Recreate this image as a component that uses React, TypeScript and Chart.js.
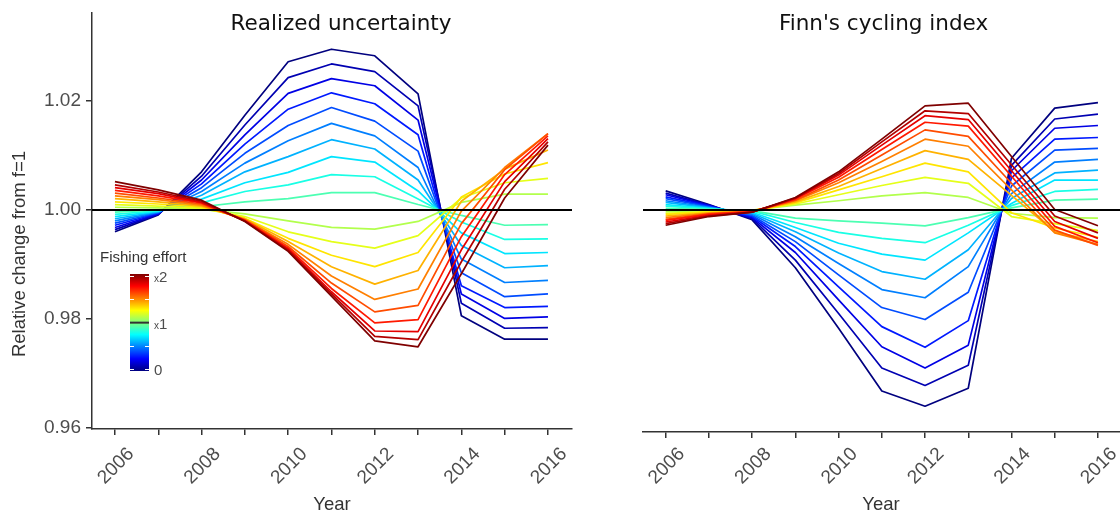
import React, { useEffect, useRef } from 'react';
import { Chart, registerables } from 'chart.js';

Chart.register(...registerables);

// ---------------- data ----------------
const years = [2006, 2007, 2008, 2009, 2010, 2011, 2012, 2013, 2014, 2015, 2016];
const xTickLabels = ['2006', '', '2008', '', '2010', '', '2012', '', '2014', '', '2016'];
const yTickValues = [0.96, 0.98, 1.0, 1.02];
const efforts = [0, 0.1, 0.2, 0.3, 0.4, 0.5, 0.6, 0.7, 0.8, 0.9, 1.0, 1.1, 1.2, 1.3, 1.4, 1.5, 1.6, 1.7, 1.8, 1.9, 2.0];
const panelTitles = ['Realized uncertainty', "Finn's cycling index"];
const xTitle = 'Year';
const yTitle = 'Relative change from f=1';
const legendTitle = 'Fishing effort';
const legendTickValues = [0, 1, 2];
const legendTickLabels = ['0', '1', '2'];
const legendTickPrefix = ['', 'x', 'x'];
const referenceLevel = 1;

// Realized uncertainty, one array per fishing effort (2006..2016)
const ruF00 = [0.9960, 0.9991, 1.0070, 1.0174, 1.0272, 1.0295, 1.0283, 1.0213, 0.9806, 0.9763, 0.9763];
const ruF01 = [0.9964, 0.9992, 1.0062, 1.0156, 1.0243, 1.0268, 1.0254, 1.0191, 0.9829, 0.9783, 0.9784];
const ruF02 = [0.9968, 0.9993, 1.0055, 1.0138, 1.0214, 1.0241, 1.0228, 1.0165, 0.9846, 0.9801, 0.9804];
const ruF03 = [0.9972, 0.9994, 1.0048, 1.0121, 1.0185, 1.0215, 1.0195, 1.0138, 0.9861, 0.9821, 0.9823];
const ruF04 = [0.9976, 0.9995, 1.0041, 1.0104, 1.0155, 1.0188, 1.0163, 1.0108, 0.9885, 0.9841, 0.9846];
const ruF05 = [0.9980, 0.9996, 1.0034, 1.0086, 1.0127, 1.0159, 1.0136, 1.0078, 0.9910, 0.9867, 0.9871];
const ruF06 = [0.9984, 0.9997, 1.0027, 1.0070, 1.0098, 1.0129, 1.0112, 1.0055, 0.9935, 0.9894, 0.9898];
const ruF07 = [0.9988, 0.9998, 1.0020, 1.0050, 1.0069, 1.0098, 1.0088, 1.0035, 0.9958, 0.9920, 0.9922];
const ruF08 = [0.9992, 0.9999, 1.0013, 1.0034, 1.0046, 1.0065, 1.0061, 1.0020, 0.9978, 0.9946, 0.9947];
const ruF09 = [0.9996, 1.0000, 1.0006, 1.0015, 1.0021, 1.0032, 1.0032, 1.0010, 0.9990, 0.9972, 0.9973];
const ruF10 = [1, 1, 1, 1, 1, 1, 1, 1, 1, 1, 1];
const ruF11 = [1.0005, 1.0004, 1.0001, 0.9993, 0.9980, 0.9968, 0.9965, 0.9979, 1.0014, 1.0029, 1.0029];
const ruF12 = [1.0010, 1.0007, 1.0003, 0.9988, 0.9960, 0.9942, 0.9930, 0.9953, 1.0022, 1.0050, 1.0058];
const ruF13 = [1.0015, 1.0011, 1.0005, 0.9985, 0.9948, 0.9917, 0.9896, 0.9922, 1.0024, 1.0066, 1.0087];
const ruF14 = [1.0021, 1.0015, 1.0007, 0.9984, 0.9942, 0.9896, 0.9864, 0.9889, 1.0016, 1.0075, 1.0110];
const ruF15 = [1.0026, 1.0019, 1.0009, 0.9982, 0.9937, 0.9879, 0.9836, 0.9855, 0.9998, 1.0078, 1.0140];
const ruF16 = [1.0031, 1.0022, 1.0011, 0.9982, 0.9933, 0.9866, 0.9813, 0.9825, 0.9975, 1.0074, 1.0140];
const ruF17 = [1.0036, 1.0026, 1.0013, 0.9981, 0.9930, 0.9856, 0.9793, 0.9799, 0.9951, 1.0065, 1.0136];
const ruF18 = [1.0041, 1.0030, 1.0014, 0.9980, 0.9928, 0.9850, 0.9778, 0.9777, 0.9927, 1.0052, 1.0131];
const ruF19 = [1.0046, 1.0033, 1.0016, 0.9980, 0.9926, 0.9846, 0.9768, 0.9762, 0.9905, 1.0038, 1.0125];
const ruF20 = [1.0052, 1.0037, 1.0018, 0.9979, 0.9924, 0.9842, 0.9760, 0.9749, 0.9883, 1.0022, 1.0119];

// Finn's cycling index, one array per fishing effort (2006..2016)
const fcF00 = [1.0035, 1.0010, 0.9982, 0.9894, 0.9783, 0.9668, 0.9640, 0.9673, 1.0095, 1.0187, 1.0197];
const fcF01 = [1.0031, 1.0009, 0.9984, 0.9908, 0.9810, 0.9710, 0.9678, 0.9715, 1.0082, 1.0167, 1.0176];
const fcF02 = [1.0028, 1.0008, 0.9986, 0.9922, 0.9835, 0.9749, 0.9710, 0.9752, 1.0072, 1.0150, 1.0155];
const fcF03 = [1.0024, 1.0007, 0.9988, 0.9933, 0.9859, 0.9786, 0.9748, 0.9797, 1.0059, 1.0130, 1.0133];
const fcF04 = [1.0021, 1.0006, 0.9990, 0.9942, 0.9881, 0.9821, 0.9799, 0.9849, 1.0044, 1.0110, 1.0113];
const fcF05 = [1.0017, 1.0005, 0.9992, 0.9951, 0.9902, 0.9854, 0.9839, 0.9896, 1.0030, 1.0088, 1.0093];
const fcF06 = [1.0014, 1.0004, 0.9994, 0.9960, 0.9921, 0.9887, 0.9873, 0.9927, 1.0021, 1.0068, 1.0073];
const fcF07 = [1.0010, 1.0003, 0.9996, 0.9968, 0.9939, 0.9919, 0.9908, 0.9958, 1.0012, 1.0055, 1.0055];
const fcF08 = [1.0007, 1.0002, 0.9998, 0.9977, 0.9959, 0.9948, 0.9940, 0.9972, 1.0008, 1.0034, 1.0038];
const fcF09 = [1.0003, 1.0001, 0.9999, 0.9985, 0.9980, 0.9976, 0.9971, 0.9986, 1.0004, 1.0018, 1.0020];
const fcF10 = [1, 1, 1, 1, 1, 1, 1, 1, 1, 1, 1];
const fcF11 = [0.9997, 0.9999, 1.0000, 1.0009, 1.0017, 1.0026, 1.0032, 1.0023, 0.9994, 0.9986, 0.9985];
const fcF12 = [0.9994, 0.9997, 0.9999, 1.0011, 1.0028, 1.0045, 1.0060, 1.0049, 0.9988, 0.9975, 0.9962];
const fcF13 = [0.9992, 0.9996, 0.9999, 1.0013, 1.0037, 1.0061, 1.0086, 1.0070, 0.9995, 0.9967, 0.9950];
const fcF14 = [0.9989, 0.9995, 0.9998, 1.0015, 1.0043, 1.0076, 1.0109, 1.0093, 1.0027, 0.9960, 0.9942];
const fcF15 = [0.9986, 0.9994, 0.9998, 1.0017, 1.0050, 1.0089, 1.0130, 1.0117, 1.0037, 0.9958, 0.9937];
const fcF16 = [0.9983, 0.9993, 0.9997, 1.0018, 1.0055, 1.0101, 1.0147, 1.0135, 1.0049, 0.9963, 0.9935];
const fcF17 = [0.9981, 0.9992, 0.9997, 1.0020, 1.0060, 1.0111, 1.0161, 1.0154, 1.0062, 0.9970, 0.9940];
const fcF18 = [0.9978, 0.9990, 0.9996, 1.0021, 1.0064, 1.0119, 1.0173, 1.0166, 1.0072, 0.9979, 0.9948];
const fcF19 = [0.9975, 0.9989, 0.9996, 1.0022, 1.0067, 1.0125, 1.0182, 1.0177, 1.0083, 0.9989, 0.9958];
const fcF20 = [0.9972, 0.9988, 0.9996, 1.0023, 1.0070, 1.0130, 1.0191, 1.0196, 1.0098, 1.0001, 0.9971];

const realizedSeries = [ruF00, ruF01, ruF02, ruF03, ruF04, ruF05, ruF06, ruF07, ruF08, ruF09, ruF10,
  ruF11, ruF12, ruF13, ruF14, ruF15, ruF16, ruF17, ruF18, ruF19, ruF20];
const finnSeries = [fcF00, fcF01, fcF02, fcF03, fcF04, fcF05, fcF06, fcF07, fcF08, fcF09, fcF10,
  fcF11, fcF12, fcF13, fcF14, fcF15, fcF16, fcF17, fcF18, fcF19, fcF20];

// ---------------- styling ----------------
const jetStops = [
  [0, 0, 127], [0, 0, 255], [0, 127, 255], [0, 255, 255], [127, 255, 127],
  [255, 255, 0], [255, 127, 0], [255, 0, 0], [127, 0, 0],
];
function jetColor(t: number): string {
  const p = Math.max(0, Math.min(1, t)) * 8;
  const i = Math.min(7, Math.floor(p));
  const f = p - i;
  const a = jetStops[i];
  const b = jetStops[i + 1];
  const c = a.map((v, k) => Math.round(v + (b[k] - v) * f));
  return `rgb(${c[0]},${c[1]},${c[2]})`;
}

const AXIS = '#333333';
const TICKTXT = '#4d4d4d';
const TICK_FONT = { family: '"Liberation Sans", Arial, sans-serif', size: 19 };
const TITLE_FONT = '21.5px "DejaVu Sans", sans-serif';
const AXTITLE_FONT = '18.5px "Liberation Sans", Arial, sans-serif';

function makeDecor(idx: number, titleX: number, yearX: number, withLeftStuff: boolean) {
  return {
    id: 'decor' + idx,
    afterDraw(chart: any) {
      const ctx = chart.ctx as CanvasRenderingContext2D;
      ctx.save();
      ctx.fillStyle = '#111';
      ctx.font = TITLE_FONT;
      ctx.textAlign = 'center';
      ctx.textBaseline = 'alphabetic';
      ctx.fillText(panelTitles[idx], titleX, 30);

      ctx.fillStyle = AXIS;
      ctx.font = AXTITLE_FONT;
      ctx.textBaseline = 'middle';
      ctx.fillText(xTitle, yearX, 505);

      if (withLeftStuff) {
        ctx.save();
        ctx.translate(20, 254);
        ctx.rotate(-Math.PI / 2);
        ctx.textAlign = 'center';
        ctx.textBaseline = 'middle';
        ctx.fillText(yTitle, 0, 0);
        ctx.restore();

        // colour-bar legend
        ctx.font = '15px "Liberation Sans", Arial, sans-serif';
        ctx.fillStyle = AXIS;
        ctx.textAlign = 'left';
        ctx.textBaseline = 'alphabetic';
        ctx.fillText(legendTitle, 100, 262);

        const bx = 130, bw = 19, by0 = 274, by1 = 371;
        const g = ctx.createLinearGradient(0, by1, 0, by0);
        jetStops.forEach((c, k) => g.addColorStop(k / 8, `rgb(${c[0]},${c[1]},${c[2]})`));
        ctx.fillStyle = g;
        ctx.fillRect(bx, by0, bw, by1 - by0);
        const vy = (v: number) => 369.3 - (v / 2) * (369.3 - 276);
        ctx.strokeStyle = '#ffffff';
        ctx.lineWidth = 1;
        [0, 0.5, 1.5, 2].forEach((v) => {
          const y = Math.round(vy(v)) + 0.5;
          ctx.beginPath();
          ctx.moveTo(bx, y); ctx.lineTo(bx + 4, y);
          ctx.moveTo(bx + bw - 4, y); ctx.lineTo(bx + bw, y);
          ctx.stroke();
        });
        ctx.strokeStyle = '#333';
        ctx.lineWidth = 2;
        ctx.beginPath();
        ctx.moveTo(bx, vy(1)); ctx.lineTo(bx + bw, vy(1));
        ctx.stroke();
        ctx.fillStyle = TICKTXT;
        legendTickValues.forEach((v, k) => {
          const y = vy(v) + 6;
          let x = 154;
          if (legendTickPrefix[k]) {
            ctx.font = '10px "Liberation Sans", Arial, sans-serif';
            ctx.fillText(legendTickPrefix[k], x, y);
            x += ctx.measureText(legendTickPrefix[k]).width;
          }
          ctx.font = '15px "Liberation Sans", Arial, sans-serif';
          ctx.fillText(legendTickLabels[k], x, y);
        });
      }
      ctx.restore();
    },
  };
}

function buildConfig(series: number[][], p: any): any {
  const datasets: any[] = [
    {
      label: 'reference',
      data: [{ x: p.xMin, y: referenceLevel }, { x: p.xMax, y: referenceLevel }],
      borderColor: '#000000',
      borderWidth: 1.8,
      pointRadius: 0,
      order: 0,
    },
  ];
  series.forEach((s, i) => {
    datasets.push({
      label: 'x' + efforts[i],
      data: years.map((yr, j) => ({ x: yr, y: s[j] })),
      borderColor: jetColor(efforts[i] / 2),
      borderWidth: 1.7,
      pointRadius: 0,
      borderJoinStyle: 'round',
      order: series.length - i,
    });
  });
  return {
    type: 'line',
    data: { datasets },
    options: {
      animation: false,
      responsive: false,
      maintainAspectRatio: false,
      events: [],
      layout: { padding: { left: p.padLeft, right: p.padRight, top: 13, bottom: 0 } },
      plugins: { legend: { display: false }, tooltip: { enabled: false }, title: { display: false } },
      scales: {
        x: {
          type: 'linear',
          min: p.xMin,
          max: p.xMax,
          afterBuildTicks: (s: any) => { s.ticks = years.map((v) => ({ value: v })); },
          afterFit: (s: any) => { s.height = p.xAxisHeight; s.paddingLeft = 0; s.paddingRight = 0; },
          ticks: {
            autoSkip: false,
            minRotation: 45,
            maxRotation: 45,
            labelOffset: 16,
            padding: p.tickPad,
            color: TICKTXT,
            font: TICK_FONT,
            callback: (_v: any, i: number) => xTickLabels[i],
          },
          grid: { drawOnChartArea: false, drawTicks: true, tickLength: 6, color: AXIS, lineWidth: 1.5 },
          border: { display: true, color: AXIS, width: 1.5 },
        },
        y: {
          type: 'linear',
          display: p.showY,
          min: p.yMin,
          max: p.yMax,
          afterBuildTicks: (s: any) => { s.ticks = yTickValues.map((v) => ({ value: v })); },
          afterFit: (s: any) => { s.width = p.padYAxis; s.paddingTop = 0; s.paddingBottom = 0; },
          ticks: {
            padding: 5,
            color: TICKTXT,
            font: TICK_FONT,
            callback: (v: any) => Number(v).toFixed(2),
          },
          grid: { drawOnChartArea: false, drawTicks: true, tickLength: 6, color: AXIS, lineWidth: 1.5 },
          border: { display: true, color: AXIS, width: 1.5 },
        },
      },
    },
    plugins: [p.decor],
  };
}

export default function App() {
  const leftRef = useRef<HTMLCanvasElement>(null);
  const rightRef = useRef<HTMLCanvasElement>(null);

  useEffect(() => {
    const left = new Chart(leftRef.current as HTMLCanvasElement, buildConfig(realizedSeries, {
      xMin: 2005.47, xMax: 2016.555, yMin: 1 - 219 / 5450, yMax: 1 + 197 / 5450,
      padLeft: 0, padRight: 28, padYAxis: 92, xAxisHeight: 86, tickPad: 8, showY: true,
      decor: makeDecor(0, 341, 332, true),
    }));
    const right = new Chart(rightRef.current as HTMLCanvasElement, buildConfig(finnSeries, {
      xMin: 2005.475, xMax: 2016.51, yMin: 1 - 222 / 5450, yMax: 1 + 197 / 5450,
      padLeft: 43, padRight: 0, padYAxis: 0, xAxisHeight: 83, tickPad: 5, showY: false,
      decor: makeDecor(1, 283.5, 281, false),
    }));
    return () => { left.destroy(); right.destroy(); };
  }, []);

  return (
    <div style={{ position: 'fixed', left: 0, top: 0, width: 1120, height: 515, background: '#ffffff', overflow: 'hidden' }}>
      <canvas ref={leftRef} width={600} height={515} style={{ position: 'absolute', left: 0, top: 0, width: 600, height: 515 }} />
      <canvas ref={rightRef} width={520} height={515} style={{ position: 'absolute', left: 600, top: 0, width: 520, height: 515 }} />
    </div>
  );
}
